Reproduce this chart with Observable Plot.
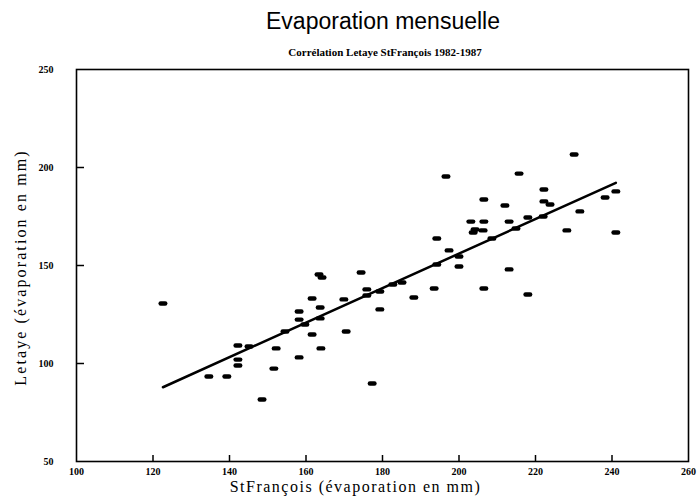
<!DOCTYPE html>
<html>
<head>
<meta charset="utf-8">
<script src="https://cdn.jsdelivr.net/npm/d3@7"></script>
<script src="https://cdn.jsdelivr.net/npm/@observablehq/plot@0.6"></script>
<style>
  body { margin: 0; background: #fff; }
  #page { position: relative; width: 697px; height: 503px; overflow: hidden; }
  #title { position: absolute; left: 383px; top: 9px; transform: translateX(-50%); white-space: nowrap;
           font-family: "Liberation Sans", Arial, sans-serif; font-size: 23px; line-height: 25px; color: #000; }
  #subtitle { position: absolute; left: 385px; top: 46px; transform: translateX(-50%); white-space: nowrap;
              font-family: "Liberation Serif", "Times New Roman", serif; font-weight: bold; font-size: 11px; line-height: 13px; color: #000; }
  #chart { position: absolute; left: 0; top: 62px; }
  .xlabel text { letter-spacing: 1.5px; }
  .ylabel text { letter-spacing: 2.1px; }
</style>
</head>
<body>
<div id="page">
  <div id="title">Evaporation mensuelle</div>
  <div id="subtitle">Corrélation Letaye StFrançois 1982-1987</div>
  <div id="chart"></div>
</div>
<script>
// Monthly evaporation (mm), paired months 1982-1987
const stFrancois = [
  122.6, 142.2, 145.1, 142.2, 142.2, 134.6, 139.3, 148.5, 152.2, 151.6,
  154.5, 158.2, 158.2, 158.2, 159.7, 161.6, 161.6, 163.7, 163.7, 163.9,
  163.4, 164.2, 169.9, 170.5, 174.4, 175.9, 175.9, 179.3, 179.3, 177.3,
  182.7, 185.1, 193.5, 188.2, 194.2, 194.2, 196.6, 197.4, 200.0, 200.0,
  203.1, 204.2, 203.7, 206.3, 206.5, 206.5, 206.5, 208.6, 212.0, 213.1,
  213.1, 214.9, 215.7, 218.0, 218.0, 222.2, 222.2, 223.8, 222.0, 228.2,
  230.1, 231.6, 238.2, 241.0, 241.0
];
const letaye = [
  130.6, 109.2, 108.7, 102.0,  99.0,  93.4,  93.4,  81.6, 107.7,  97.4,
  116.3, 126.5, 122.4, 103.1, 119.9, 133.2, 114.8, 128.6, 123.0, 107.7,
  145.4, 143.9, 132.7, 116.3, 146.4, 137.8, 134.7, 136.7, 127.6,  89.8,
  140.3, 141.3, 138.3, 133.7, 163.8, 150.5, 195.4, 157.7, 154.6, 149.5,
  172.4, 168.4, 166.8, 167.9, 183.7, 172.4, 138.3, 163.8, 180.6, 172.4,
  148.0, 168.9, 196.9, 174.5, 135.2, 188.8, 182.7, 181.1, 175.0, 167.9,
  206.6, 177.6, 184.7, 187.8, 166.8
];
const xTicks = [100, 120, 140, 160, 180, 200, 220, 240, 260];
const yTicks = [50, 100, 150, 200, 250];

const months = stFrancois.map((x, i) => ({x, y: letaye[i]}));

// Short horizontal pill used as the point marker
const dash = {
  draw(ctx) {
    const w = 2.3, h = 2.2;
    ctx.moveTo(-w, -h);
    ctx.lineTo(w, -h);
    ctx.arc(w, 0, h, -Math.PI / 2, Math.PI / 2);
    ctx.lineTo(-w, h);
    ctx.arc(-w, 0, h, Math.PI / 2, 3 * Math.PI / 2);
    ctx.closePath();
  }
};

const chart = Plot.plot({
  width: 697,
  height: 441,
  marginTop: 7,
  marginBottom: 42,
  marginLeft: 76,
  marginRight: 9,
  x: {domain: [100, 260]},
  y: {domain: [50, 250]},
  style: {fontFamily: "'Liberation Serif', 'Times New Roman', serif", fontSize: "10px", color: "#000", background: "#fff"},
  marks: [
    Plot.axisX(xTicks, {tickSize: 0, tickPadding: 6, fontWeight: "bold", label: null}),
    Plot.axisY(yTicks, {tickSize: 0, tickPadding: 23, fontWeight: "bold", label: null}),
    Plot.tickX(xTicks.slice(1, -1), {x: d => d, insetTop: 386, stroke: "#000", strokeWidth: 1.5}),
    Plot.tickY(yTicks.slice(1, -1), {y: d => d, insetRight: 604, stroke: "#000", strokeWidth: 1.5}),
    Plot.frame({stroke: "#000", strokeWidth: 1.6}),
    Plot.linearRegressionY(months, {x: "x", y: "y", ci: 0, stroke: "#000", strokeWidth: 2.5}),
    Plot.dot(months, {x: "x", y: "y", symbol: dash, fill: "#000", stroke: "none"}),
    Plot.text(["StFrançois (évaporation en mm)"], {
      className: "xlabel", fontSize: 16, fill: "#000",
      frameAnchor: "bottom", textAnchor: "middle", dy: 30, dx: -27
    }),
    Plot.text(["Letaye (évaporation en mm)"], {
      className: "ylabel", fontSize: 16, fill: "#000",
      frameAnchor: "left", textAnchor: "middle", rotate: -90, dx: -56, dy: 2
    })
  ]
});
document.getElementById("chart").appendChild(chart);
</script>
</body>
</html>
